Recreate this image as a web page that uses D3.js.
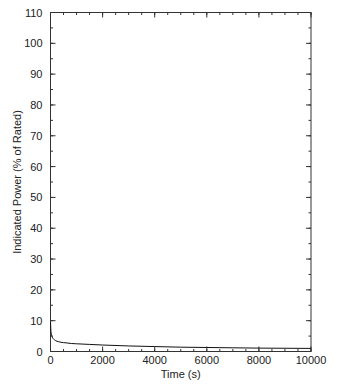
<!DOCTYPE html>
<meta charset="utf-8">
<script src="https://d3js.org/d3.v7.min.js"></script>
<style>
body { margin: 0; background: #fff; }
text { font-family: "Liberation Sans", Arial, sans-serif; fill: #222; }
</style>
<div id="chart"></div>
<script>
// data
var timeS = [0, 10, 30, 60, 100, 150, 200, 300, 400, 600, 800, 1000, 1500, 2000, 3000, 4000, 5000, 6000, 7000, 8000, 9000, 10000];
var powerPct = [9.6, 7.5, 5.8, 4.8, 4.2, 3.8, 3.5, 3.2, 3.0, 2.8, 2.6, 2.5, 2.3, 2.1, 1.8, 1.6, 1.4, 1.3, 1.2, 1.1, 1.05, 1.0];
var xTicks = [0, 2000, 4000, 6000, 8000, 10000];
var yTicks = [0, 10, 20, 30, 40, 50, 60, 70, 80, 90, 100, 110];

var W = 355, H = 390;
var margin = {top: 12.5, right: 44, bottom: 38.5, left: 50.5};
var width = W - margin.left - margin.right,
    height = H - margin.top - margin.bottom;

var svg = d3.select("#chart").append("svg")
    .attr("width", W).attr("height", H)
  .append("g")
    .attr("transform", "translate(" + margin.left + "," + margin.top + ")");

var x = d3.scaleLinear().domain([0, 10000]).range([0, width]);
var y = d3.scaleLinear().domain([0, 110]).range([height, 0]);

var xMinor = d3.range(0, 10001, 500);
var yMinor = d3.range(0, 111, 5);

// frame
svg.append("rect")
    .attr("width", width).attr("height", height)
    .attr("fill", "none").attr("stroke", "#333").attr("stroke-width", 1);

// inward ticks on all four sides
function ticksX(vals, len) {
  svg.append("g").selectAll("line").data(vals).enter().append("line")
      .attr("x1", x).attr("x2", x)
      .attr("y1", height).attr("y2", height - len)
      .attr("stroke", "#333");
  svg.append("g").selectAll("line").data(vals).enter().append("line")
      .attr("x1", x).attr("x2", x)
      .attr("y1", 0).attr("y2", len)
      .attr("stroke", "#333");
}
function ticksY(vals, len) {
  svg.append("g").selectAll("line").data(vals).enter().append("line")
      .attr("y1", y).attr("y2", y)
      .attr("x1", 0).attr("x2", len)
      .attr("stroke", "#333");
  svg.append("g").selectAll("line").data(vals).enter().append("line")
      .attr("y1", y).attr("y2", y)
      .attr("x1", width).attr("x2", width - len)
      .attr("stroke", "#333");
}
ticksX(xMinor, 2.5);
ticksX(xTicks, 5);
ticksY(yMinor, 2.5);
ticksY(yTicks, 5);

// tick labels
svg.append("g").selectAll("text").data(xTicks).enter().append("text")
    .attr("x", x).attr("y", height + 12.5)
    .attr("text-anchor", "middle")
    .style("font-size", "11px")
    .text(function(d) { return d; });

svg.append("g").selectAll("text").data(yTicks).enter().append("text")
    .attr("x", -8).attr("y", function(d) { return y(d) + 4; })
    .attr("text-anchor", "end")
    .style("font-size", "11px")
    .text(function(d) { return d; });

// axis labels
svg.append("text")
    .attr("x", width / 2).attr("y", height + 26)
    .attr("text-anchor", "middle")
    .style("font-size", "11px")
    .text("Time (s)");

svg.append("text")
    .attr("transform", "translate(" + (-30) + "," + (height / 2) + ") rotate(-90)")
    .attr("text-anchor", "middle")
    .style("font-size", "11px")
    .text("Indicated Power (% of Rated)");

// curve
var pts = timeS.map(function(t, i) { return [t, powerPct[i]]; });
svg.append("path")
    .datum(pts)
    .attr("fill", "none")
    .attr("stroke", "#111")
    .attr("stroke-width", 1)
    .attr("d", d3.line()
        .x(function(d) { return x(d[0]); })
        .y(function(d) { return y(d[1]); })
        .curve(d3.curveMonotoneX));
</script>
